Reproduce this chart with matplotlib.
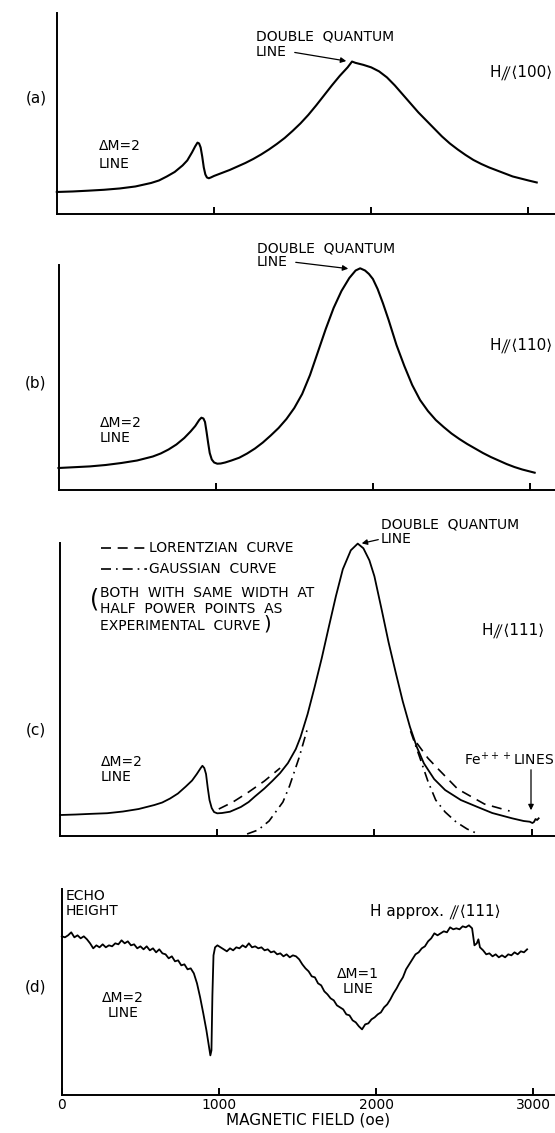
import numpy as np
import matplotlib
matplotlib.use('Agg')
import matplotlib.pyplot as plt

#--------------------------------------------------------------------------------------------------
# DATA (field in oe, height in arbitrary units)
#--------------------------------------------------------------------------------------------------

# (a) H // <100>
field_a = [0, 100, 200, 300, 400, 500, 600, 650, 700, 750, 800, 830, 860, 880, 895, 905, 915,
           925, 935, 945, 955, 967, 980, 1000, 1050, 1100, 1150, 1200, 1250, 1300, 1350, 1400,
           1450, 1500, 1550, 1600, 1650, 1700, 1750, 1800, 1850, 1878, 1900, 1950, 2000, 2050,
           2100, 2150, 2200, 2250, 2300, 2350, 2400, 2450, 2500, 2550, 2600, 2650, 2700, 2750,
           2800, 2850, 2900, 2950, 3000, 3053]
height_a = [21.5, 22, 22.8, 23.7, 25, 27, 30.5, 33, 37, 41.5, 48, 53, 61, 67, 70.8, 70, 66,
            57, 46, 39, 36, 35.2, 36, 37.5, 40.5, 43.5, 47, 50.5, 54.5, 59, 64, 69.5, 75.5,
            82.5, 90, 98.5, 108, 118, 128, 137.5, 146, 151.8, 150.5, 148.5, 146, 142, 136, 128,
            119, 110, 101, 93, 85, 77, 70, 64, 58.5, 53.5, 49.5, 46, 43, 40, 37, 35, 33, 31]

# (b) H // <110>
field_b = [0, 100, 200, 300, 400, 500, 600, 650, 700, 750, 800, 840, 870, 895, 909, 922, 932,
           942, 952, 962, 975, 990, 1010, 1032, 1060, 1100, 1150, 1200, 1250, 1300, 1350,
           1400, 1450, 1500, 1550, 1600, 1650, 1700, 1750, 1800, 1850, 1890, 1919, 1950, 1975,
           2000, 2030, 2064, 2100, 2150, 2200, 2250, 2300, 2350, 2400, 2450, 2500, 2550, 2600,
           2650, 2700, 2750, 2800, 2850, 2900, 2950, 3029]
height_b = [22, 22.8, 23.6, 25, 27, 29.5, 33.5, 36.5, 40.5, 45.5, 52, 58.5, 64, 70, 72.3,
            71.5, 68, 58, 47, 37, 30.5, 27.5, 26.3, 26.5, 27.5, 29.5, 32.3, 36.5, 41.5, 47.5,
            54.5, 62, 71, 82, 96, 115, 138, 161, 182, 199, 212, 219.5, 221.7, 219.5, 216, 211,
            201, 186.7, 170, 145, 124, 105, 90, 79, 70, 63, 56.5, 51, 46, 41.5, 37, 33, 29.5,
            26, 23, 20.5, 17.3]

# (c) H // <111>, experimental curve
field_c = [0, 100, 200, 300, 400, 500, 600, 650, 700, 750, 800, 840, 870, 895, 906, 918, 929,
           940, 951, 965, 980, 1000, 1030, 1081, 1150, 1200, 1238, 1300, 1350, 1400, 1450,
           1500, 1530, 1575, 1620, 1665, 1710, 1755, 1799, 1850, 1894, 1930, 1968, 2000, 2047,
           2090, 2137, 2180, 2226, 2270, 2315, 2380, 2450, 2550, 2652, 2750, 2876, 2950, 2988,
           3005, 3015, 3025, 3035, 3045]
height_c = [21, 21.5, 22.2, 22.8, 24.5, 27, 31, 33.5, 37.5, 42.5, 49.5, 55.5, 62, 68, 70.3,
            68, 62, 48, 36, 28, 24, 22.7, 23, 24.3, 29, 34, 39.3, 47.5, 55, 63, 73, 87, 99,
            122, 149.3, 178, 209.3, 240, 267, 286, 292.7, 288, 276, 260, 226, 194, 162.7,
            135, 109.3, 89, 72.7, 57, 46, 36, 29.3, 23, 17.7, 15, 14.3, 13, 14, 17, 16, 17.7]

# (c) Lorentzian curve, two tails
field_lor_l = [1010, 1100, 1200, 1300, 1400]
height_lor_l = [27, 34, 44, 55, 68]
field_lor_r = [2270, 2340, 2400, 2530, 2700, 2860]
height_lor_r = [93, 78, 68, 47, 32, 25]

# (c) Gaussian curve, two tails
field_gau_l = [1190, 1260, 1330, 1418, 1460, 1520, 1575]
height_gau_l = [2, 6, 15, 34, 50, 78, 108]
field_gau_r = [2230, 2290, 2340, 2390, 2450, 2520, 2590, 2660]
height_gau_r = [105, 78, 55, 36, 24, 14, 7, 2]

# (d) echo height, H approx. // <111>
field_d = [0, 20, 40, 60, 80, 100, 120, 140, 160, 180, 200, 220, 240, 260, 280, 300, 320,
           340, 360, 380, 400, 420, 440, 460, 480, 500, 520, 540, 560, 580, 600, 620, 640,
           660, 680, 700, 720, 740, 760, 780, 800, 820, 840, 860, 880, 900, 920, 935, 945,
           952, 958, 965, 975, 990, 1010, 1030, 1050, 1070, 1090, 1110, 1130, 1150, 1170,
           1190, 1210, 1230, 1250, 1270, 1290, 1310, 1330, 1350, 1370, 1390, 1410, 1430,
           1450, 1470, 1490, 1510, 1530, 1550, 1570, 1590, 1610, 1630, 1650, 1670, 1690,
           1710, 1730, 1750, 1770, 1790, 1810, 1830, 1850, 1870, 1890, 1910, 1930, 1950,
           1970, 1990, 2010, 2030, 2050, 2070, 2090, 2110, 2130, 2150, 2170, 2190, 2210,
           2230, 2250, 2270, 2290, 2310, 2330, 2350, 2370, 2390, 2410, 2430, 2450, 2470,
           2490, 2510, 2530, 2550, 2570, 2590, 2610, 2625, 2640, 2650, 2660, 2680, 2700,
           2720, 2740, 2760, 2780, 2800, 2820, 2840, 2860, 2880, 2900, 2920, 2940, 2960]
height_d = [159, 158, 160, 163, 158, 160, 157, 159, 156, 152, 147, 150, 148, 151, 148, 150,
            149, 152, 151, 155, 152, 154, 150, 151, 147, 149, 146, 149, 145, 147, 143, 146,
            142, 141, 137, 139, 134, 135, 130, 131, 126, 127, 122, 112, 98, 82, 65, 50, 40,
            45, 100, 140, 148, 150, 148, 146, 144, 147, 145, 148, 147, 150, 148, 152, 148,
            149, 147, 148, 145, 146, 143, 144, 141, 142, 139, 141, 138, 140, 139, 136, 131,
            127, 124, 119, 118, 112, 110, 104, 101, 97, 95, 90, 88, 86, 81, 80, 75, 73, 69,
            66, 71, 72, 76, 78, 81, 83, 88, 91, 96, 102, 107, 113, 118, 126, 131, 136, 141,
            143, 147, 149, 154, 157, 162, 160, 162, 164, 163, 168, 166, 167, 166, 169, 168,
            170, 167, 150, 152, 156, 148, 145, 141, 142, 139, 141, 138, 140, 138, 141, 140,
            143, 141, 144, 143, 146]

ticks = [1000, 2000, 3000]
tick_labels_d = ['0', '1000', '2000', '3000']

#--------------------------------------------------------------------------------------------------
# PLOT
#--------------------------------------------------------------------------------------------------

W, H = 555, 1133
PX_PER_OE = 0.1572
plt.rcParams['font.family'] = ['DejaVu Sans', 'STIXGeneral']

fig = plt.figure(figsize=(W / 100, H / 100), dpi=100)

def make_axes(left, top, bottom, ymax):
    # left / top / bottom in image pixels
    ax = fig.add_axes([left / W, 1 - bottom / H, (W - left) / W, (bottom - top) / H])
    ax.set_xlim(0, (W - left) / PX_PER_OE)
    ax.set_ylim(0, ymax)
    for s in ['top', 'right']:
        ax.spines[s].set_visible(False)
    for s in ['left', 'bottom']:
        ax.spines[s].set_linewidth(1.4)
    ax.set_yticks([])
    ax.set_xticks(ticks)
    ax.set_xticklabels([])
    ax.tick_params(axis='x', direction='in', length=5, width=1.4)
    return ax

def txt(x, y, s, size=10, ha='left', **kw):
    fig.text(x / W, 1 - y / H, s, fontsize=size, ha=ha, va='center', **kw)

def arrow(x0, y0, x1, y1):
    fig.add_artist(matplotlib.patches.FancyArrowPatch(
        (x0 / W, 1 - y0 / H), (x1 / W, 1 - y1 / H), transform=fig.transFigure,
        arrowstyle='-|>', mutation_scale=8, lw=0.9, color='black'))

lw = 1.5

# (a)
ax_a = make_axes(56.8, 13.3, 213.5, 200)
ax_a.plot(field_a, height_a, color='black', lw=lw, clip_on=False)
txt(36, 98, '(a)', size=11, ha='center')
txt(99, 146, 'ΔM=2')
txt(99, 164, 'LINE')
txt(256, 37, 'DOUBLE  QUANTUM')
txt(256, 52, 'LINE')
arrow(292, 52, 349, 61.5)
txt(553, 72, 'H⫽⟨100⟩', size=11, ha='right')

# (b)
ax_b = make_axes(58.5, 265, 490, 225)
ax_b.plot(field_b, height_b, color='black', lw=lw, clip_on=False)
txt(36, 383, '(b)', size=11, ha='center')
txt(100, 423, 'ΔM=2')
txt(100, 438, 'LINE')
txt(257, 248, 'DOUBLE  QUANTUM')
txt(257, 262, 'LINE')
arrow(293, 262, 351, 269)
txt(553, 345, 'H⫽⟨110⟩', size=11, ha='right')

# (c)
ax_c = make_axes(60, 543.3, 836, 293)
ax_c.plot(field_c, height_c, color='black', lw=1.3, clip_on=False)
ax_c.plot(field_lor_l, height_lor_l, color='black', lw=1.2, dashes=(6, 4))
ax_c.plot(field_lor_r, height_lor_r, color='black', lw=1.2, dashes=(6, 4))
ax_c.plot(field_gau_l, height_gau_l, color='black', lw=1.2, dashes=(6, 3, 1, 3))
ax_c.plot(field_gau_r, height_gau_r, color='black', lw=1.2, dashes=(6, 3, 1, 3))
txt(36, 730, '(c)', size=11, ha='center')
fig.add_artist(matplotlib.lines.Line2D([101 / W, 147 / W], [1 - 548 / H] * 2,
                                       color='black', lw=1.2, dashes=(6, 4)))
fig.add_artist(matplotlib.lines.Line2D([101 / W, 147 / W], [1 - 569 / H] * 2,
                                       color='black', lw=1.2, dashes=(6, 3, 1, 3)))
txt(149, 548, 'LORENTZIAN  CURVE')
txt(149, 569, 'GAUSSIAN  CURVE')
txt(90, 600, '(', size=17)
txt(100, 593, 'BOTH  WITH  SAME  WIDTH  AT')
txt(100, 609, 'HALF  POWER  POINTS  AS')
txt(100, 626, 'EXPERIMENTAL  CURVE')
txt(263, 624, ')', size=14)
txt(381, 525, 'DOUBLE  QUANTUM')
txt(381, 539, 'LINE')
arrow(381, 539, 359, 544)
txt(545, 630, 'H⫽⟨111⟩', size=11, ha='right')
txt(101, 762, 'ΔM=2')
txt(101, 777, 'LINE')
txt(554, 760, 'Fe$^{+++}$LINES', ha='right')
arrow(531, 767, 531, 813)

# (d)
ax_d = make_axes(61.8, 889.3, 1095.4, 206)
ax_d.plot(field_d, height_d, color='black', lw=1.3, clip_on=False)
ax_d.set_xticks([0] + ticks)
ax_d.set_xticklabels(tick_labels_d, fontsize=10)
ax_d.tick_params(axis='x', pad=2)
ax_d.set_xlabel('MAGNETIC FIELD (oe)', fontsize=11, labelpad=0)
txt(36, 987, '(d)', size=11, ha='center')
txt(66, 896, 'ECHO')
txt(66, 911, 'HEIGHT')
txt(370, 911, 'H approx. ⫽⟨111⟩', size=11)
txt(358, 974, 'ΔM=1', ha='center')
txt(358, 989, 'LINE', ha='center')
txt(123, 998, 'ΔM=2', ha='center')
txt(123, 1013, 'LINE', ha='center')

fig.savefig('out.png', dpi=100)
